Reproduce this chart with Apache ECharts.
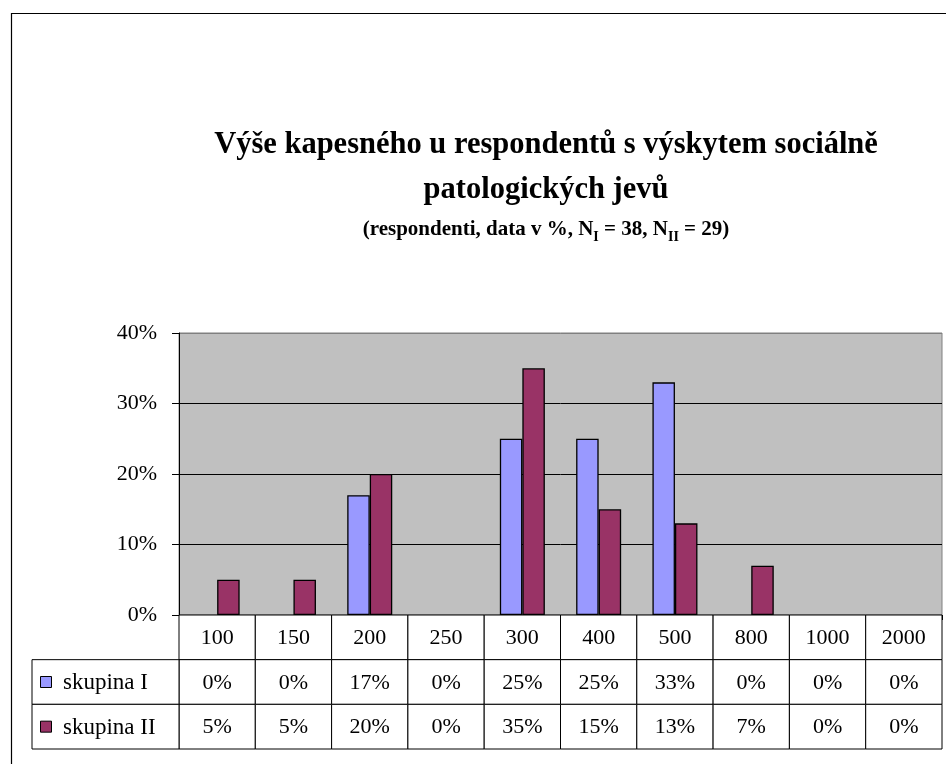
<!DOCTYPE html>
<html>
<head>
<meta charset="utf-8">
<script src="https://cdn.jsdelivr.net/npm/echarts@6/dist/echarts.min.js"></script>
<style>
html,body{margin:0;padding:0;background:#fff;}
#c{width:946px;height:764px;}
</style>
</head>
<body>
<div id="c"></div>
<script>
const categories = ['100','150','200','250','300','400','500','800','1000','2000'];
const seriesNames = ['skupina I','skupina II'];
const skupinaI = [0,0,17,0,25,25,33,0,0,0];
const skupinaII = [5,5,20,0,35,15,13,7,0,0];
const yTicks = [0,10,20,30,40];
const titleLine1 = 'Výše kapesného u respondentů s výskytem sociálně';
const titleLine2 = 'patologických jevů';

const FONT = '"Liberation Serif","Times New Roman",serif';
const colors = ['#9999FF','#993366'];

// table rows built from the arrays
const tableRows = [
  categories,
  skupinaI.map(v => v + '%'),
  skupinaII.map(v => v + '%')
];
const tableCells = [];
tableRows.forEach((row, r) => row.forEach((t, c) => tableCells.push([c, r])));
function cellText(idx){ const c = tableCells[idx]; return tableRows[c[1]][c[0]]; }
function barData(arr){
  return arr.map(v => v === 0 ? {value:v, itemStyle:{borderWidth:0, opacity:0}} : v);
}

const chart = echarts.init(document.getElementById('c'), null, {renderer:'canvas'});

chart.setOption({
  backgroundColor:'#fff',
  animation:false,
  title:[
    {
      text: titleLine1 + '\n' + titleLine2,
      left: 541, top: 118, textAlign:'center',
      textStyle:{fontFamily:FONT, fontWeight:'bold', fontSize:30.5, lineHeight:45, color:'#000'}
    },
    {
      text:'{t|(respondenti, data v %, N}{s|I}{t| = 38, N}{s|II}{t| = 29)}',
      left: 541, top: 209, textAlign:'center',
      textStyle:{
        rich:{
          t:{fontFamily:FONT, fontWeight:'bold', fontSize:21, color:'#000', lineHeight:26, verticalAlign:'bottom'},
          s:{fontFamily:FONT, fontWeight:'bold', fontSize:14, color:'#000', lineHeight:20, verticalAlign:'bottom', padding:[0,0,-4,0]}
        }
      }
    }
  ],
  graphic:[
    {type:'rect', silent:true, z:-1, shape:{x:11.5, y:13.5, width:1000, height:800},
     style:{fill:null, stroke:'#000', lineWidth:1.2}}
  ],
  grid:[
    {left:179, right:4, top:333, bottom:149, show:true, backgroundColor:'#C0C0C0', borderColor:'#808080', borderWidth:1},
    {left:179, right:4, top:615, height:134},
    {left:32, width:147, top:615 + 134/3, height:134*2/3}
  ],
  xAxis:[
    {type:'category', gridIndex:0, data:categories,
     axisLine:{show:true, lineStyle:{color:'#000', width:1}},
     axisTick:{show:true, length:5, lineStyle:{color:'#000'}},
     axisLabel:{show:false}, splitLine:{show:false}},
    {type:'category', gridIndex:1, data:categories, show:false},
    {type:'category', gridIndex:2, data:['k'], show:false}
  ],
  yAxis:[
    {type:'value', gridIndex:0, min:yTicks[0], max:yTicks[yTicks.length-1], interval:10,
     axisLine:{show:true, lineStyle:{color:'#000', width:1}},
     axisTick:{show:true, length:7, lineStyle:{color:'#000'}},
     axisLabel:{formatter:'{value}%', fontFamily:FONT, fontSize:22, color:'#000', margin:22},
     splitLine:{show:true, lineStyle:{color:['#000','#000','#000','#000','#808080'], width:1}}},
    {type:'category', gridIndex:1, data:['h','a','b'], inverse:true, show:false},
    {type:'category', gridIndex:2, data:seriesNames, inverse:true, show:false}
  ],
  series:[
    {name:seriesNames[0], type:'bar', xAxisIndex:0, yAxisIndex:0, data:barData(skupinaI),
     barGap:'0%', barCategoryGap:'41%',
     itemStyle:{color:colors[0], borderColor:'#000', borderWidth:1.3}},
    {name:seriesNames[1], type:'bar', xAxisIndex:0, yAxisIndex:0, data:barData(skupinaII),
     barGap:'0%', barCategoryGap:'41%',
     itemStyle:{color:colors[1], borderColor:'#000', borderWidth:1.3}},
    {type:'custom', xAxisIndex:1, yAxisIndex:1, data:tableCells, silent:true,
     renderItem:function(params, api){
       const c = api.coord([api.value(0), api.value(1)]);
       const s = api.size([1,1]);
       return {type:'group', children:[
         {type:'rect', shape:{x:c[0]-s[0]/2, y:c[1]-s[1]/2, width:s[0], height:s[1]},
          style:{fill:'#fff', stroke:'#000', lineWidth:1}},
         {type:'text', style:{text:cellText(params.dataIndex), x:c[0], y:c[1]+1,
           align:'center', verticalAlign:'middle', fontFamily:FONT, fontSize:22, fill:'#000'}}
       ]};
     }},
    {type:'custom', xAxisIndex:2, yAxisIndex:2, data:[[0,0],[0,1]], silent:true,
     renderItem:function(params, api){
       const c = api.coord([api.value(0), api.value(1)]);
       const s = api.size([1,1]);
       const x0 = c[0]-s[0]/2;
       return {type:'group', children:[
         {type:'rect', shape:{x:x0, y:c[1]-s[1]/2, width:s[0], height:s[1]},
          style:{fill:'#fff', stroke:'#000', lineWidth:1}},
         {type:'rect', shape:{x:x0+8.5, y:c[1]-5.5, width:11, height:11},
          style:{fill:colors[params.dataIndex], stroke:'#000', lineWidth:1}},
         {type:'text', style:{text:seriesNames[params.dataIndex], x:x0+31, y:c[1]+1,
           align:'left', verticalAlign:'middle', fontFamily:FONT, fontSize:23, fill:'#000'}}
       ]};
     }}
  ]
});
</script>
</body>
</html>
